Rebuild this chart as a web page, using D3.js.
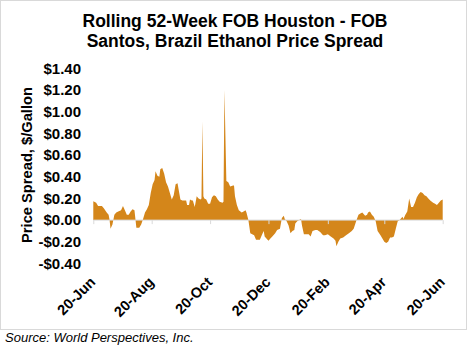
<!DOCTYPE html>
<html><head><meta charset="utf-8">
<script src="https://cdn.jsdelivr.net/npm/d3@7"></script>
<style>body{margin:0;background:#fff}svg{display:block}text{font-family:"Liberation Sans",Arial,sans-serif}</style>
</head><body>
<script>
const titleLines = ["Rolling 52-Week FOB Houston - FOB", "Santos, Brazil Ethanol Price Spread"];
const yAxisTitle = "Price Spread, $/Gallon";
const sourceText = "Source: World Perspectives, Inc.";
const startDate = "2020-06-20";
const dayOffsets = [0,3,5,9,11,14,16,17,18,20,22,24,26,29,31,33,35,37,39,41,43,44,45,48,50,52,54,56,58,60,62,64,65,67,69,70,72,74,76,78,80,82,84,86,88,89,91,93,95,97,98,100,101,103,104,106,108,110,112,113,114,115,116,118,120,122,124,126,128,130,132,135,136,137,139,141,143,146,147,148,150,152,155,157,159,160,162,164,166,168,170,172,174,176,178,179,182,183,185,187,190,192,195,197,199,200,202,204,206,208,210,211,213,215,217,218,220,222,225,227,229,232,234,237,240,242,245,248,251,253,254,256,258,261,264,267,270,272,275,277,279,281,284,286,287,289,291,293,295,297,300,302,304,306,308,310,312,314,316,318,320,323,324,326,328,330,332,334,336,338,340,342,344,346,348,350,352,355,357,359,361,363,365];
const spreadValues = [0.175,0.16,0.13,0.13,0.11,0.07,0.05,0.0,-0.08,-0.04,0.05,0.07,0.08,0.09,0.13,0.09,0.05,0.05,0.08,0.10,0.09,0.01,-0.07,-0.07,-0.04,0.01,0.07,0.10,0.14,0.25,0.33,0.37,0.45,0.41,0.40,0.47,0.48,0.43,0.35,0.31,0.25,0.19,0.23,0.33,0.34,0.29,0.19,0.18,0.18,0.18,0.14,0.14,0.19,0.18,0.18,0.12,0.22,0.20,0.19,0.20,0.91,0.22,0.20,0.19,0.15,0.15,0.21,0.23,0.22,0.19,0.17,0.16,0.17,1.20,0.36,0.35,0.31,0.32,0.32,0.22,0.14,0.09,0.07,0.08,0.09,0.07,0.0,-0.12,-0.13,-0.14,-0.18,-0.18,-0.18,-0.14,-0.10,-0.15,-0.18,-0.19,-0.17,-0.15,-0.12,-0.09,-0.08,0.02,0.04,0.01,-0.01,-0.05,-0.12,-0.10,-0.09,-0.03,-0.01,0.0,0.01,-0.05,-0.13,-0.13,-0.13,-0.15,-0.10,-0.09,-0.09,-0.11,-0.14,-0.14,-0.13,-0.15,-0.17,-0.19,-0.24,-0.20,-0.17,-0.16,-0.14,-0.12,-0.10,-0.08,0.0,0.05,0.06,0.07,0.04,0.05,0.07,0.08,0.05,0.03,-0.01,-0.10,-0.14,-0.17,-0.20,-0.21,-0.20,-0.16,-0.16,-0.15,-0.08,-0.01,0.0,0.03,0.01,0.05,0.08,0.20,0.12,0.12,0.16,0.21,0.24,0.26,0.25,0.23,0.22,0.20,0.18,0.16,0.15,0.14,0.16,0.18,0.19];
const xTickDates = ["2020-06-20","2020-08-20","2020-10-20","2020-12-20","2021-02-20","2021-04-20","2021-06-20"];
const yTickValues = [1.4,1.2,1.0,0.8,0.6,0.4,0.2,0.0,-0.2,-0.4];

const W = 471, H = 346;
const svg = d3.select("body").append("svg").attr("width", W).attr("height", H);
const parse = d3.utcParse("%Y-%m-%d");
const start = parse(startDate);
const data = dayOffsets.map((d, i) => ({date: d3.utcDay.offset(start, d), v: spreadValues[i]}));
const xTicks = xTickDates.map(parse);

svg.append("rect").attr("x", 0.5).attr("y", 0.5).attr("width", 466).attr("height", 329)
  .attr("fill", "#fff").attr("stroke", "#d9d9d9");

const x = d3.scaleUtc().domain([xTicks[0], xTicks[xTicks.length - 1]]).range([93.3, 442.7]);
const y = d3.scaleLinear().domain([-0.4, 1.4]).range([263.5, 68.3]);

// title
svg.append("g").selectAll("text").data(titleLines).join("text")
  .attr("x", 235).attr("y", (d, i) => 27 + i * 20)
  .attr("text-anchor", "middle").attr("font-weight", "bold").attr("font-size", 17.5)
  .attr("fill", "#000").text(d => d);

// area
const area = d3.area().x(d => x(d.date)).y0(y(0)).y1(d => y(d.v));
svg.append("path").datum(data).attr("d", area).attr("fill", "#D4861A");

// y axis labels
const yAxis = d3.axisLeft(y).tickValues(yTickValues).tickSize(0).tickPadding(0)
  .tickFormat(v => (v < 0 ? "-$" : "$") + Math.abs(v).toFixed(2));
const gy = svg.append("g").attr("transform", "translate(81,0)").call(yAxis);
gy.select(".domain").remove();
gy.selectAll("text").attr("font-family", "Liberation Sans, Arial, sans-serif")
  .attr("font-weight", "bold").attr("font-size", 15).attr("fill", "#000");

// zero axis line with ticks
const xAxis = d3.axisBottom(x).tickValues(xTicks).tickSize(4).tickFormat("");
const gx = svg.append("g").attr("transform", `translate(0,${y(0)})`).call(xAxis);
gx.select(".domain").attr("stroke", "#d9d9d9").attr("d", `M${x.range()[0]},0H${x.range()[1]}`);
gx.selectAll(".tick line").attr("stroke", "#d9d9d9");

// x labels at bottom, rotated
const fmt = d3.utcFormat("%d-%b");
svg.append("g").selectAll("text").data(xTicks).join("text")
  .attr("transform", d => `translate(${x(d) + 3},${283}) rotate(-45)`)
  .attr("text-anchor", "end").attr("font-weight", "bold").attr("font-size", 14.5)
  .attr("fill", "#000").text(d => fmt(d));

// y axis title
svg.append("text").attr("transform", "translate(32,165) rotate(-90)")
  .attr("text-anchor", "middle").attr("font-weight", "bold").attr("font-size", 14.7)
  .attr("fill", "#000").text(yAxisTitle);

// source
svg.append("text").attr("x", 5).attr("y", 342).attr("font-style", "italic")
  .attr("font-size", 13).attr("fill", "#000").text(sourceText);
</script>
</body></html>
